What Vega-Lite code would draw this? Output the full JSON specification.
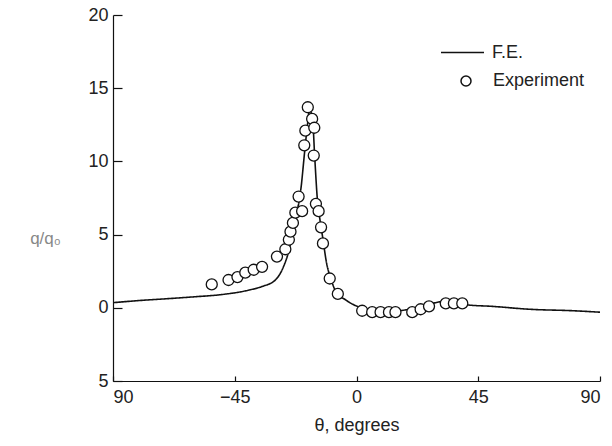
{
  "$schema": "https://vega.github.io/schema/vega-lite/v6.json",
  "width": 487,
  "height": 366,
  "autosize": {"type": "none"},
  "padding": {"left": 113, "top": 15, "right": 12, "bottom": 65},
  "background": "white",
  "config": {
    "view": {"stroke": null},
    "font": "Liberation Sans",
    "axis": {
      "grid": false,
      "domainColor": "#111",
      "domainWidth": 1.2,
      "tickColor": "#111",
      "tickWidth": 1.2,
      "labelFont": "Liberation Sans",
      "labelFontSize": 18,
      "labelColor": "#222",
      "titleFont": "Liberation Sans",
      "titleFontSize": 18,
      "titleFontWeight": "normal",
      "titleColor": "#222"
    }
  },
  "datasets": {
    "fe": [
      {"theta": -90, "q": 0.35},
      {"theta": -80, "q": 0.5},
      {"theta": -70, "q": 0.62},
      {"theta": -60, "q": 0.75},
      {"theta": -50, "q": 0.9},
      {"theta": -40, "q": 1.2},
      {"theta": -35, "q": 1.45},
      {"theta": -30, "q": 1.9},
      {"theta": -27, "q": 2.8},
      {"theta": -25, "q": 3.9},
      {"theta": -23.5, "q": 5.2},
      {"theta": -22, "q": 6.5},
      {"theta": -20.5, "q": 8.2},
      {"theta": -19.2, "q": 10.6},
      {"theta": -18.3, "q": 12.2},
      {"theta": -17.3, "q": 13.5},
      {"theta": -16.2, "q": 12.8},
      {"theta": -15.5, "q": 10.5},
      {"theta": -14.5, "q": 7.5},
      {"theta": -13.5, "q": 6.0},
      {"theta": -12.5, "q": 4.8},
      {"theta": -11, "q": 3.0},
      {"theta": -9.5, "q": 2.0},
      {"theta": -7, "q": 0.9},
      {"theta": -4.5, "q": 0.6},
      {"theta": -2, "q": 0.3},
      {"theta": 1, "q": 0.05},
      {"theta": 5, "q": -0.15},
      {"theta": 11, "q": -0.3},
      {"theta": 16, "q": -0.2},
      {"theta": 22, "q": 0.0},
      {"theta": 28, "q": 0.3},
      {"theta": 33, "q": 0.45},
      {"theta": 38, "q": 0.45},
      {"theta": 41, "q": 0.2},
      {"theta": 50, "q": 0.1},
      {"theta": 64, "q": -0.1},
      {"theta": 80, "q": -0.2},
      {"theta": 90, "q": -0.3}
    ],
    "exp": [
      {"theta": -53.5, "q": 1.6},
      {"theta": -47.3, "q": 1.9},
      {"theta": -44, "q": 2.1},
      {"theta": -41.1, "q": 2.4},
      {"theta": -38, "q": 2.6},
      {"theta": -34.9, "q": 2.8},
      {"theta": -29.4, "q": 3.5},
      {"theta": -26.3, "q": 4.0},
      {"theta": -25, "q": 4.65},
      {"theta": -24.4, "q": 5.2},
      {"theta": -23.5, "q": 5.8},
      {"theta": -22.6, "q": 6.5},
      {"theta": -20.1, "q": 6.6},
      {"theta": -21.4, "q": 7.6},
      {"theta": -19.3, "q": 11.1},
      {"theta": -18.9, "q": 12.1},
      {"theta": -18, "q": 13.7},
      {"theta": -16.4, "q": 12.9},
      {"theta": -15.6, "q": 12.3},
      {"theta": -15.8, "q": 10.4},
      {"theta": -15, "q": 7.1},
      {"theta": -14, "q": 6.6},
      {"theta": -13.1, "q": 5.5},
      {"theta": -12.4, "q": 4.4},
      {"theta": -9.9, "q": 2.0},
      {"theta": -6.9, "q": 0.95},
      {"theta": 2.1, "q": -0.2},
      {"theta": 5.8, "q": -0.3},
      {"theta": 8.9, "q": -0.3},
      {"theta": 12, "q": -0.3},
      {"theta": 14.4, "q": -0.3},
      {"theta": 20.6, "q": -0.3},
      {"theta": 23.7, "q": -0.1},
      {"theta": 26.8, "q": 0.1},
      {"theta": 33, "q": 0.3},
      {"theta": 36, "q": 0.3},
      {"theta": 39.1, "q": 0.3}
    ]
  },
  "layer": [
    {
      "data": {"name": "fe"},
      "mark": {"type": "line", "color": "#111", "strokeWidth": 1.6, "interpolate": "monotone"},
      "encoding": {
        "x": {
          "field": "theta", "type": "quantitative",
          "scale": {"domain": [-90, 90], "nice": false, "zero": false},
          "axis": {
            "values": [-90, -45, 0, 45, 90],
            "title": "θ, degrees",
            "tickSize": -5,
            "labelPadding": 12,
            "titlePadding": 10,
            "labelExpr": "datum.value == -90 ? '90' : datum.label"
          }
        },
        "y": {
          "field": "q", "type": "quantitative",
          "scale": {"domain": [-5, 20], "nice": false, "zero": false},
          "axis": {
            "values": [-5, 0, 5, 10, 15, 20],
            "title": "q/q₀",
            "titleAngle": 0,
            "titleAlign": "center",
            "titleBaseline": "middle",
            "titleX": -68,
            "titleY": 223,
            "titleColor": "#888",
            "titleFontSize": 17,
            "tickSize": -9,
            "labelPadding": 14,
            "labelExpr": "datum.value == -5 ? '5' : datum.label"
          }
        },
        "strokeDash": {
          "datum": "F.E.", "type": "nominal",
          "scale": {"domain": ["F.E."], "range": [[1, 0]]},
          "legend": {
            "title": null,
            "orient": "none",
            "legendX": 327,
            "legendY": 15,
            "symbolType": "stroke",
            "symbolSize": 1849,
            "symbolStrokeWidth": 1.6,
            "symbolStrokeColor": "#111",
            "labelFontSize": 18,
            "labelColor": "#222",
            "labelOffset": 7,
            "padding": 0
          }
        }
      }
    },
    {
      "data": {"name": "exp"},
      "mark": {"type": "point", "shape": "circle", "filled": true, "fill": "white", "stroke": "#111", "strokeWidth": 1.3, "size": 121, "opacity": 1},
      "encoding": {
        "x": {"field": "theta", "type": "quantitative"},
        "y": {"field": "q", "type": "quantitative"},
        "shape": {
          "datum": "Experiment", "type": "nominal",
          "scale": {"domain": ["Experiment"], "range": ["circle"]},
          "legend": {
            "title": null,
            "orient": "none",
            "legendX": 344,
            "legendY": 57,
            "symbolType": "circle",
            "symbolSize": 100,
            "labelFontSize": 18,
            "labelColor": "#222",
            "labelOffset": 18,
            "padding": 0,
            "encode": {
              "symbols": {
                "update": {
                  "fill": {"value": "white"},
                  "stroke": {"value": "#111"},
                  "strokeWidth": {"value": 1.3},
                  "opacity": {"value": 1},
                  "fillOpacity": {"value": 1},
                  "strokeOpacity": {"value": 1}
                }
              }
            }
          }
        }
      }
    }
  ]
}
